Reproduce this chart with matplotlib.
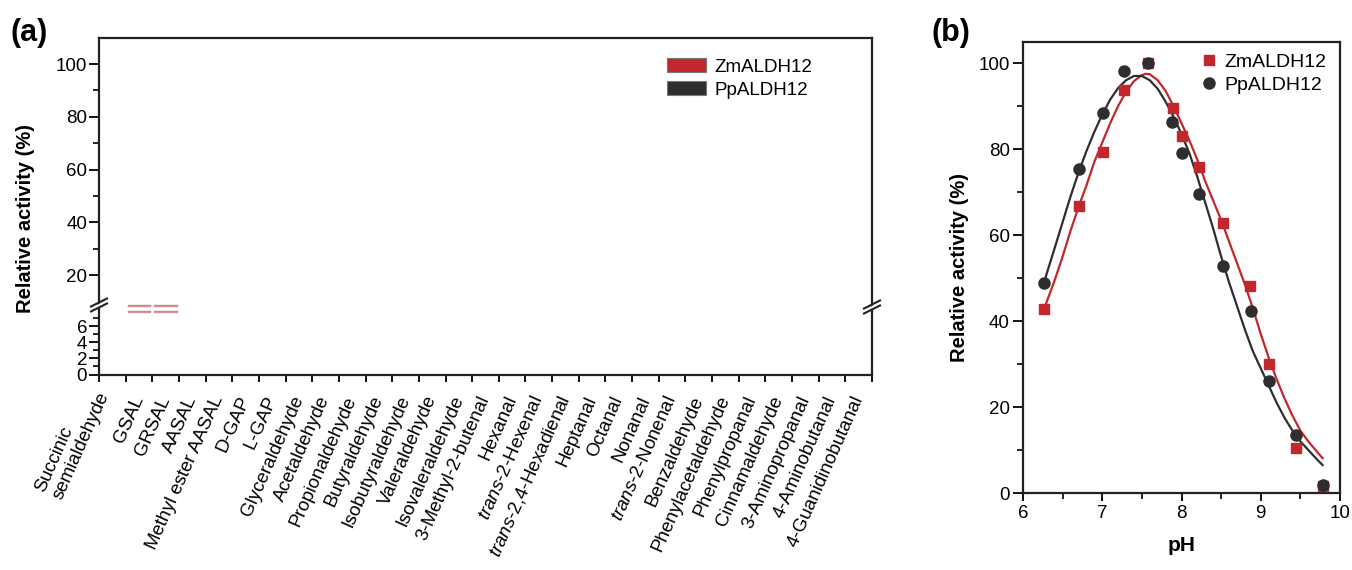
import matplotlib
matplotlib.use('Agg')
import matplotlib.pyplot as plt
from matplotlib.patches import Patch, Polygon
from matplotlib.lines import Line2D

plt.rcParams['font.family'] = ['Liberation Sans', 'DejaVu Sans']
plt.rcParams['mathtext.fontset'] = 'custom'
plt.rcParams['mathtext.it'] = 'Liberation Sans:italic'
plt.rcParams['mathtext.rm'] = 'Liberation Sans'

# ---------------- data ----------------
substrates = ['Succinic\nsemialdehyde', 'GSAL', 'GRSAL', 'AASAL', 'Methyl ester AASAL',
              'D-GAP', 'L-GAP', 'Glyceraldehyde', 'Acetaldehyde', 'Propionaldehyde',
              'Butyraldehyde', 'Isobutyraldehyde', 'Valeraldehyde', 'Isovaleraldehyde',
              '3-Methyl-2-butenal', 'Hexanal', r'$\it{trans}$-2-Hexenal',
              r'$\it{trans}$-2,4-Hexadienal', 'Heptanal', 'Octanal', 'Nonanal',
              r'$\it{trans}$-2-Nonenal', 'Benzaldehyde', 'Phenylacetaldehyde',
              'Phenylpropanal', 'Cinnamaldehyde', '3-Aminopropanal', '4-Aminobutanal',
              '4-Guanidinobutanal']
series_names = ['ZmALDH12', 'PpALDH12']
broken_substrates = ['GSAL', 'GRSAL']      # bars running through the axis break
break_levels = [8.6, 7.9]                  # upper / lower edge of the break gap (lower-axis units)

ph_zm = [6.27, 6.71, 7.01, 7.28, 7.58, 7.89, 8.00, 8.22, 8.52, 8.86, 9.10, 9.44, 9.78]
act_zm = [42.9, 66.7, 79.2, 93.8, 100.0, 89.6, 83.0, 75.9, 62.8, 48.1, 30.0, 10.4, 1.6]
ph_pp = [6.27, 6.71, 7.01, 7.27, 7.58, 7.88, 8.00, 8.22, 8.52, 8.88, 9.10, 9.44, 9.78]
act_pp = [48.8, 75.3, 88.3, 98.1, 100.0, 86.3, 79.0, 69.5, 52.8, 42.4, 26.0, 13.6, 1.9]

fit_ph_zm = [6.27, 6.4, 6.5, 6.6, 6.71, 6.8, 6.9, 7.0, 7.1, 7.2, 7.3, 7.4, 7.5, 7.55, 7.6,
             7.7, 7.8, 7.9, 8.0, 8.1, 8.2, 8.3, 8.4, 8.5, 8.6, 8.7, 8.8, 8.9, 9.0, 9.1,
             9.2, 9.3, 9.4, 9.5, 9.6, 9.7, 9.78]
fit_zm = [43.0, 49.5, 55.0, 61.0, 67.0, 71.5, 77.0, 81.5, 86.0, 90.0, 93.3, 95.8, 97.2, 97.5, 97.4,
          96.0, 93.5, 90.0, 86.0, 82.0, 77.5, 72.5, 68.0, 63.5, 58.5, 53.5, 48.5, 43.0, 37.0, 31.5,
          26.5, 22.0, 18.0, 14.5, 12.0, 9.8, 8.1]
fit_ph_pp = [6.27, 6.4, 6.5, 6.6, 6.7, 6.8, 6.9, 7.0, 7.1, 7.2, 7.3, 7.4, 7.5, 7.6, 7.7,
             7.8, 7.9, 8.0, 8.1, 8.2, 8.3, 8.4, 8.5, 8.6, 8.7, 8.8, 8.9, 9.0, 9.1, 9.2,
             9.3, 9.4, 9.5, 9.6, 9.7, 9.78]
fit_pp = [49.3, 57.0, 63.0, 69.0, 74.5, 79.5, 84.0, 88.0, 91.5, 94.2, 96.0, 97.0, 97.0, 96.0, 94.0,
          91.0, 87.5, 83.5, 79.0, 73.5, 67.5, 61.5, 55.0, 49.0, 43.5, 38.0, 33.0, 29.0, 25.0, 21.0,
          17.5, 14.5, 12.0, 10.0, 8.0, 6.5]

# ---------------- style ----------------
RED = '#c1272d'
DARK = '#2e2e2e'
W, H = 1352, 570
fig = plt.figure(figsize=(W / 100, H / 100), dpi=100)


def fx(px):
    return px / W


def fy(py):
    return 1 - py / H


FS = 13.5
LFS = 15

# ---------------- panel (a) ----------------
xl, xr = 99, 872
ytop, ybrk, ybot = 38, 308, 374.5
ax_hi = fig.add_axes([fx(xl), fy(ybrk), fx(xr) - fx(xl), fy(ytop) - fy(ybrk)])
ax_lo = fig.add_axes([fx(xl), fy(ybot), fx(xr) - fx(xl), fy(ybrk) - fy(ybot)], sharex=ax_hi)

n = len(substrates)
for ax in (ax_hi, ax_lo):
    ax.set_xlim(-0.5, n - 0.5)
    for s in ax.spines.values():
        s.set_linewidth(1.6)
        s.set_color('#222222')
ax_hi.set_ylim(7.5, 109.9)
ax_lo.set_ylim(0, 8.23)
ax_hi.spines['bottom'].set_visible(False)
ax_lo.spines['top'].set_visible(False)

ax_hi.set_yticks([20, 40, 60, 80, 100])
ax_hi.set_yticks([30, 50, 70, 90], minor=True)
ax_lo.set_yticks([0, 2, 4, 6])
ax_lo.set_yticks([1, 3, 5, 7], minor=True)
ax_hi.tick_params(axis='x', which='both', bottom=False, labelbottom=False)
for ax in (ax_hi, ax_lo):
    ax.tick_params(axis='y', which='major', direction='out', length=7.5, width=1.3,
                   labelsize=FS, pad=1)
    ax.tick_params(axis='y', which='minor', direction='out', length=4.5, width=1.2)

bounds = [i - 0.5 for i in range(n + 1)]
centers = list(range(n))
ax_lo.set_xticks(bounds)
ax_lo.set_xticklabels([''] * len(bounds))
ax_lo.set_xticks(centers, minor=True)
ax_lo.set_xticklabels(substrates, minor=True, rotation=66, ha='right',
                      rotation_mode='anchor', va='center', fontsize=FS)
ax_lo.tick_params(axis='x', which='major', direction='out', length=5, width=1.3)
ax_lo.tick_params(axis='x', which='minor', length=0, pad=16)
first = ax_lo.get_xticklabels(minor=True)[0]
first.set_multialignment('left')
first.set_va('bottom')

# bars passing through the break: only their edges at the gap are visible
for name in broken_substrates:
    i = substrates.index(name)
    for y in break_levels:
        ax_lo.plot([i - 0.43, i + 0.43], [y, y], color='#9a9a9a', lw=1.0, clip_on=False, zorder=5)
        ax_lo.plot([i - 0.43, i + 0.43], [y - 0.13, y - 0.13], color='#dd8f93', lw=1.0,
                   clip_on=False, zorder=5)

# axis break marks on both spines
for xc, yc in [(xl, 305), (xr, 307)]:
    poly = Polygon([[fx(xc - 3), fy(yc + 1)], [fx(xc + 3), fy(yc - 3)],
                    [fx(xc + 3), fy(yc + 1)], [fx(xc - 3), fy(yc + 5)]],
                   closed=True, transform=fig.transFigure, facecolor='white',
                   edgecolor='none', zorder=10)
    fig.add_artist(poly)
    for dy in (-2.5, 2.5):
        fig.add_artist(Line2D([fx(xc - 8), fx(xc + 8)], [fy(yc + 4 + dy), fy(yc - 4 + dy)],
                              transform=fig.transFigure, color='#222222', lw=1.5, zorder=11))

ax_hi.legend(handles=[Patch(facecolor=RED, edgecolor='#777777', lw=0.8),
                      Patch(facecolor=DARK, edgecolor='#777777', lw=0.8)],
             labels=series_names, loc='upper left', frameon=False,
             bbox_to_anchor=(fx(667), fy(58)), bbox_transform=fig.transFigure,
             fontsize=FS, handlelength=2.1, handleheight=0.8,
             handletextpad=0.45, labelspacing=0.28, borderaxespad=0, borderpad=0)

fig.text(fx(26), fy(218), 'Relative activity (%)', rotation=90, ha='center', va='center',
         fontsize=14.5, fontweight='bold')
fig.text(fx(11), fy(33), '(a)', fontsize=22, fontweight='bold', ha='left', va='center')

# ---------------- panel (b) ----------------
bl, br, bt, bb = 1023, 1340, 42, 493
axb = fig.add_axes([fx(bl), fy(bb), fx(br) - fx(bl), fy(bt) - fy(bb)])
axb.plot(fit_ph_zm, fit_zm, color=RED, lw=1.6, zorder=2)
axb.plot(fit_ph_pp, fit_pp, color=DARK, lw=1.6, zorder=2)
axb.plot(ph_zm, act_zm, 's', color=RED, ms=7.2, mec=RED, zorder=3, label=series_names[0])
axb.plot(ph_pp, act_pp, 'o', color=DARK, ms=8, mec=DARK, zorder=3, label=series_names[1])
axb.set_xlim(6, 10)
axb.set_ylim(0, 104.9)
axb.set_xticks([6, 7, 8, 9, 10])
axb.set_xticks([6.5, 7.5, 8.5, 9.5], minor=True)
axb.set_yticks([0, 20, 40, 60, 80, 100])
axb.set_yticks([10, 30, 50, 70, 90], minor=True)
axb.tick_params(axis='y', which='major', direction='out', length=7.5, width=1.3,
                labelsize=FS, pad=2)
axb.tick_params(axis='x', which='major', direction='out', length=5.5, width=1.3,
                labelsize=FS, pad=3)
axb.tick_params(which='minor', direction='out', length=4, width=1.2)
for s in axb.spines.values():
    s.set_linewidth(1.6)
    s.set_color('#222222')
axb.set_xlabel('pH', fontsize=LFS, fontweight='bold', labelpad=10)
axb.set_ylabel('Relative activity (%)', fontsize=14.5, fontweight='bold', labelpad=7)
axb.legend(loc='upper left', frameon=False, bbox_to_anchor=(fx(1199), fy(53)),
           bbox_transform=fig.transFigure, fontsize=14, handlelength=1.0,
           handletextpad=0.3, labelspacing=0.3, borderaxespad=0, borderpad=0)
fig.text(fx(931), fy(33), '(b)', fontsize=22, fontweight='bold', ha='left', va='center')

fig.savefig('out.png', dpi=100)
